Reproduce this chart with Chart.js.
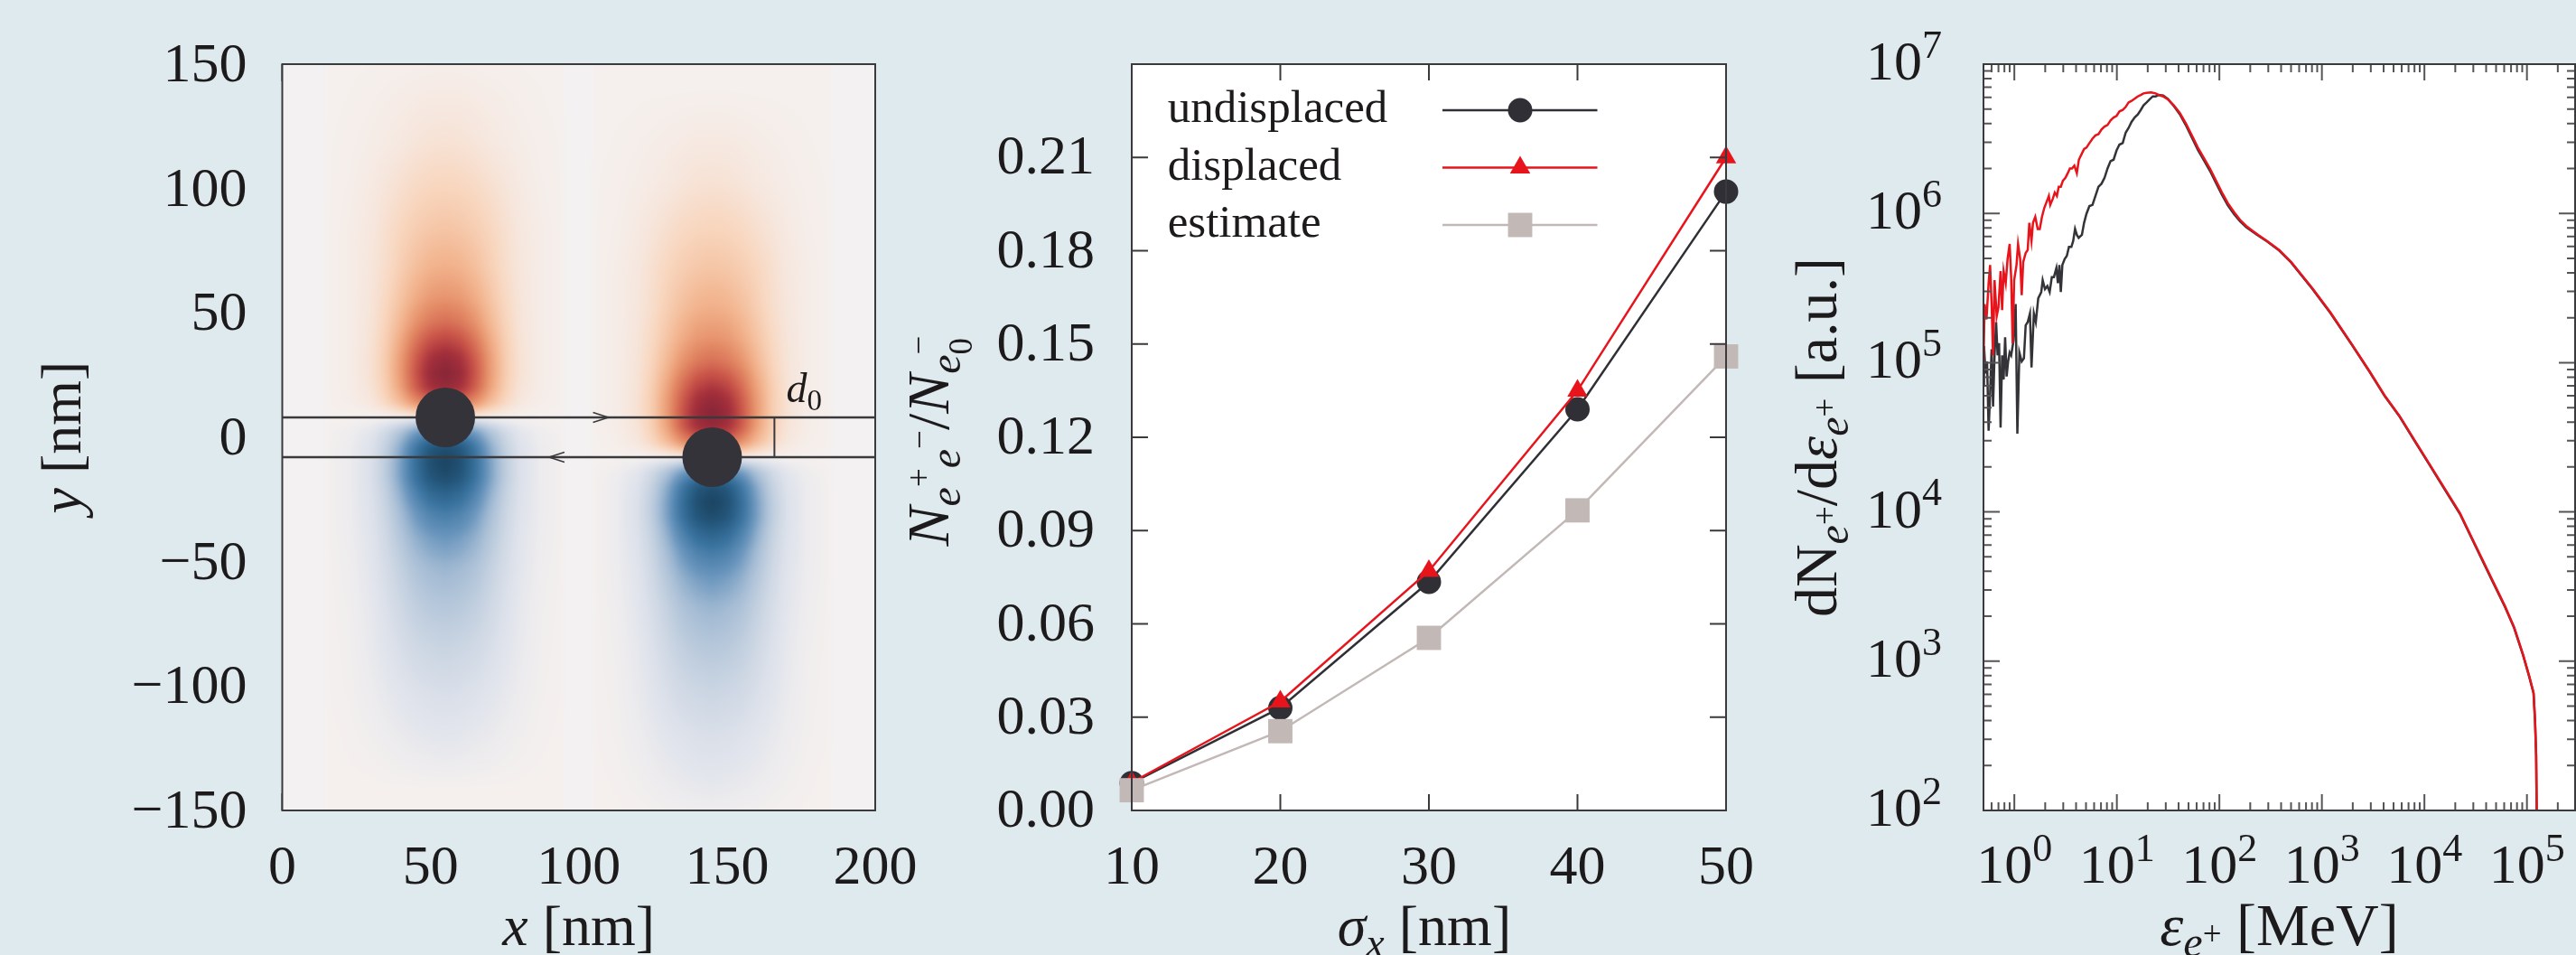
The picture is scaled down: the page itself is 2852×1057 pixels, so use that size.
<!DOCTYPE html>
<html><head><meta charset="utf-8">
<script src="https://cdn.jsdelivr.net/npm/chart.js@4.4.1/dist/chart.umd.min.js"></script>
<style>
html,body{margin:0;padding:0;}
body{width:2852px;height:1057px;position:relative;overflow:hidden;background:#dfeaef;}
canvas{position:absolute;top:0;}
</style></head><body>
<canvas id="c1" width="1045" height="1057" style="left:0px"></canvas>
<canvas id="c2" width="950" height="1057" style="left:1000px"></canvas>
<canvas id="c3" width="902" height="1057" style="left:1950px"></canvas>
<script>
// ---------------- Panel 1 data ----------------
const xTicks1 = [0, 50, 100, 150, 200];
const yTicks1 = [150, 100, 50, 0, -50, -100, -150];
const beamX = [55, 145];
const beamY = [8, -8];
const beamLineY = [8, -8];
const d0X = 166;
const d0Label = [170, 14];
const arrowMarks = [[110, 8, 1], [90, -8, -1]];
const bandHalfWidth = 40;
const fieldDx = [0, 5, 10, 15, 20, 25, 32, 40];
const fieldDy = [150,130,110,90,75,60,48,38,30,24,18,12,6,0,-6,-12,-18,-24,-30,-38,-48,-60,-75,-90,-110,-130,-150];
const fieldGrid = [
 [0,0,0,0,0,0,0,0],
 [.03,.03,.025,.02,.015,.01,.005,0],
 [.07,.065,.055,.04,.03,.02,.01,.003],
 [.13,.125,.11,.085,.06,.035,.015,.005],
 [.19,.18,.155,.12,.08,.045,.02,.005],
 [.27,.255,.21,.15,.09,.05,.02,.005],
 [.37,.35,.28,.19,.11,.055,.02,.005],
 [.52,.48,.38,.24,.13,.06,.02,.005],
 [.72,.66,.5,.3,.15,.065,.02,.005],
 [.88,.8,.58,.34,.16,.07,.02,.005],
 [.98,.88,.62,.35,.16,.07,.02,.005],
 [.9,.82,.58,.32,.15,.06,.02,.005],
 [.55,.5,.38,.22,.11,.045,.015,.003],
 [0,0,0,0,0,0,0,0],
 [-.55,-.5,-.38,-.22,-.11,-.045,-.015,-.003],
 [-.9,-.82,-.58,-.32,-.15,-.06,-.02,-.005],
 [-1,-.9,-.64,-.36,-.17,-.07,-.02,-.005],
 [-.92,-.84,-.62,-.36,-.17,-.07,-.02,-.005],
 [-.75,-.69,-.52,-.31,-.15,-.065,-.02,-.005],
 [-.56,-.52,-.4,-.25,-.13,-.06,-.02,-.005],
 [-.4,-.37,-.3,-.2,-.11,-.05,-.018,-.005],
 [-.28,-.26,-.22,-.15,-.09,-.045,-.015,-.004],
 [-.2,-.19,-.16,-.115,-.07,-.035,-.012,-.004],
 [-.14,-.13,-.115,-.085,-.055,-.03,-.01,-.003],
 [-.08,-.075,-.065,-.05,-.034,-.02,-.008,-.002],
 [-.04,-.036,-.03,-.024,-.016,-.01,-.004,0],
 [0,0,0,0,0,0,0,0]
];

// ---------------- Panel 2 data ----------------
const sigmaX = [10, 20, 30, 40, 50];
const undisplaced = [0.0088, 0.033, 0.0735, 0.129, 0.199];
const displaced = [0.009, 0.035, 0.077, 0.135, 0.21];
const estimate = [0.0065, 0.0255, 0.0555, 0.0965, 0.146];
const seriesNames = ['undisplaced', 'displaced', 'estimate'];
const xTicks2 = [10, 20, 30, 40, 50];
const yTicks2 = [0, 0.03, 0.06, 0.09, 0.12, 0.15, 0.18, 0.21, 0.24];
const yTickLabels2 = ['0.00','0.03','0.06','0.09','0.12','0.15','0.18','0.21'];

// ---------------- Panel 3 data ----------------
const xDecades3 = [0, 1, 2, 3, 4, 5];
const yDecades3 = [2, 3, 4, 5, 6, 7];
const redE = [0.5,0.513,0.535,0.561,0.58,0.6,0.62,0.641,0.673,0.7,
 0.734,0.76,0.786,0.824,0.859,0.9,0.931,0.963,0.996,1.05,
 1.087,1.14,1.18,1.22,1.29,1.35,1.4,1.47,1.52,1.6,
 1.69,1.77,1.86,1.96,2.07,2.17,2.24,2.37,2.48,2.6,
 2.71,2.84,2.98,3.15,3.32,3.48,3.65,3.85,4.07,4.26,
 4.56,4.79,5.05,5.4,5.78,6.18,6.62,7.08,7.58,8.11,
 8.67,9.29,9.93,10.6,11.4,12.2,13.0,13.9,14.9,16.0,
 17.1,18.2,19.5,21.6,23.9,25.6,28.3,31.4,35.9,41.1,
 47.1,53.9,61.7,70.6,80.9,92.6,106,121,139,159,
 182,208,239,292,383,502,
 807,1211,1944,2918,4093,5741,8050,1.13e4,1.58e4,2.22e4,
 3.11e4,4.37e4,6.12e4,7.5e4,9.19e4,1.05e5,1.16e5,1.2e5,1.23e5,1.245e5,1.25e5];
const redN = [9.73e4,2.47e5,1.95e5,3.41e5,4.51e5,2.47e5,1.12e5,3.57e5,2.05e5,2.35e5,
 4.11e5,2.25e5,4.11e5,3.41e5,4.95e5,6.24e5,3.74e5,1.35e5,3.57e5,4.51e5,
 6.24e5,4.95e5,2.83e5,4.72e5,5.43e5,5.69e5,8.65e5,6.54e5,8.65e5,9.49e5,
 7.87e5,7.87e5,9.49e5,1.09e6,1.2e6,1.31e6,1.14e6,1.25e6,1.38e6,1.31e6,
 1.51e6,1.51e6,1.66e6,1.73e6,1.86e6,2.0e6,2.0e6,2.09e6,1.86e6,2.29e6,
 2.52e6,2.7e6,2.76e6,2.96e6,3.17e6,3.33e6,3.4e6,3.65e6,3.82e6,3.91e6,
 4.2e6,4.39e6,4.5e6,4.82e6,4.93e6,5.17e6,5.54e6,5.67e6,5.86e6,6.08e6,
 6.22e6,6.37e6,6.43e6,6.46e6,6.37e6,6.22e6,6.08e6,5.81e6,5.3e6,4.71e6,
 4.01e6,3.33e6,2.76e6,2.35e6,2.0e6,1.66e6,1.38e6,1.17e6,1.02e6,9.06e5,
 8.25e5,7.69e5,7.18e5,6.54e5,5.69e5,4.72e5,
 3.15e5,2.17e5,1.34e5,8.75e4,6.03e4,4.38e4,3.01e4,2.07e4,1.43e4,9.82e3,
 6.08e3,3.76e3,2.33e3,1.69e3,1.1e3,800,614,400,235,100,10];
const blackE = [0.5,0.506,0.524,0.542,0.561,0.58,0.6,0.62,0.641,0.664,
 0.687,0.71,0.734,0.76,0.786,0.813,0.841,0.87,0.9,0.931,
 0.982,1.03,1.07,1.12,1.18,1.24,1.29,1.35,1.42,1.47,
 1.55,1.62,1.71,1.83,1.89,1.99,2.1,2.21,2.32,2.43,
 2.57,2.66,2.75,2.84,2.94,3.1,3.25,3.41,3.6,3.75,
 3.91,4.07,4.24,4.56,4.79,5.05,5.4,5.78,6.18,6.62,
 7.08,7.58,8.11,8.67,9.29,9.93,10.6,11.4,12.2,13.0,
 13.9,14.9,16.0,17.1,18.2,19.5,20.9,22.4,23.9,25.6,
 28.3,31.4,
 35.9,41.1,47.1,53.9,61.7,70.6,80.9,92.6,106,121,
 139,159,182,208,239,292,383,502,807,1211,
 1944,2918,4093,5741,8050,1.13e4,1.58e4,2.22e4,3.11e4,4.37e4,
 6.12e4,7.5e4,9.19e4,1.05e5,1.16e5,1.2e5,1.23e5,1.245e5,1.25e5];
const blackN = [7.03e4,1.29e5,8.47e4,1.02e5,3.5e4,6.12e4,1.23e5,5.09e4,1.12e5,1.87e5,
 1.12e5,1.35e5,3.67e4,1.12e5,7.71e4,1.48e5,8.09e4,1.02e5,1.17e5,1.12e5,
 1.41e5,2.47e5,3.34e4,1.17e5,1.02e5,1.07e5,1.78e5,1.87e5,2.14e5,9.3e4,
 2.14e5,1.87e5,2.7e5,2.97e5,3.57e5,3.11e5,3.26e5,2.97e5,3.74e5,3.74e5,
 4.31e5,3.41e5,4.51e5,2.97e5,4.51e5,4.95e5,5.19e5,5.96e5,5.96e5,6.54e5,
 7.87e5,7.18e5,6.86e5,7.18e5,8.65e5,9.93e5,1.12e6,1.14e6,1.31e6,1.51e6,
 1.58e6,1.73e6,2.0e6,2.24e6,2.29e6,2.64e6,2.89e6,2.96e6,3.48e6,3.73e6,
 4.1e6,4.39e6,4.6e6,4.93e6,5.3e6,5.54e6,5.81e6,6.08e6,6.08e6,6.22e6,
 6.16e6,5.86e6,
 5.25e6,4.62e6,3.9e6,3.22e6,2.66e6,2.27e6,1.93e6,1.6e6,1.33e6,1.13e6,
 9.9e5,8.85e5,8.1e5,7.58e5,7.1e5,6.48e5,5.64e5,4.68e5,3.12e5,2.15e5,
 1.33e5,8.68e4,5.98e4,4.34e4,2.98e4,2.05e4,1.41e4,9.7e3,6.0e3,3.7e3,
 2.3e3,1.67e3,1.09e3,790,610,398,233,100,10];

// ---------------- styling helpers ----------------
const FAM = '"Liberation Serif","Times New Roman",serif';
const TXT = '#1d1a1b';
const AX = '#3a3a3c';

function drawRich(ctx, parts, x, y, S, align) {
  const fnt = p => (p.it ? 'italic ' : '') + Math.round(S * (p.s || 1)) + 'px ' + FAM;
  const widths = parts.map(([t, p]) => { ctx.font = fnt(p); return ctx.measureText(t).width; });
  let cur = 0, maxx = 0;
  parts.forEach(([t, p], i) => { const e = cur + widths[i]; maxx = Math.max(maxx, e); if (!p.nx) cur = e; });
  const w = Math.max(cur, maxx);
  const sx = align === 'center' ? x - w / 2 : align === 'right' ? x - w : x;
  ctx.save();
  ctx.fillStyle = TXT; ctx.textBaseline = 'alphabetic'; ctx.textAlign = 'left';
  cur = 0;
  parts.forEach(([t, p], i) => { ctx.font = fnt(p); ctx.fillText(t, sx + cur, y + (p.dy || 0) * S); if (!p.nx) cur += widths[i]; });
  ctx.restore();
}
function drawRichRot(ctx, parts, x, y, S) {
  ctx.save(); ctx.translate(x, y); ctx.rotate(-Math.PI / 2);
  drawRich(ctx, parts, 0, 0, S, 'center'); ctx.restore();
}
function frame(chart) {
  const {ctx, chartArea: a} = chart;
  ctx.save(); ctx.strokeStyle = AX; ctx.lineWidth = 2;
  ctx.strokeRect(a.left, a.top, a.right - a.left, a.bottom - a.top); ctx.restore();
}
function ticksIn(chart, xt, yt, color) {
  const {ctx, chartArea: a, scales: {x, y}} = chart;
  ctx.save(); ctx.strokeStyle = color || AX; ctx.lineWidth = 2; ctx.beginPath();
  xt.forEach(([v, l]) => { const p = x.getPixelForValue(v);
    ctx.moveTo(p, a.bottom); ctx.lineTo(p, a.bottom - l); ctx.moveTo(p, a.top); ctx.lineTo(p, a.top + l); });
  yt.forEach(([v, l]) => { const p = y.getPixelForValue(v);
    ctx.moveTo(a.left, p); ctx.lineTo(a.left + l, p); ctx.moveTo(a.right, p); ctx.lineTo(a.right - l, p); });
  ctx.stroke(); ctx.restore();
}
const fmtNum = v => String(v).replace('-', '\u2212');
const whiteBg = { id: 'whiteBg', beforeDatasetsDraw(chart) {
  const {ctx, chartArea: a} = chart; ctx.save(); ctx.fillStyle = '#ffffff';
  ctx.fillRect(a.left, a.top, a.right - a.left, a.bottom - a.top); ctx.restore(); } };

// ---------------- heatmap colour map ----------------
const cmapV = [-1, -0.8, -0.6, -0.4, -0.25, -0.12, -0.04, 0, 0.04, 0.12, 0.25, 0.4, 0.6, 0.8, 1];
const cmapC = [[27,67,96],[38,90,128],[58,116,160],[104,148,188],[165,188,212],[204,214,227],[228,230,237],
  [245,240,238],[246,232,224],[248,214,190],[242,180,142],[228,140,102],[204,88,74],[166,48,60],[130,36,55]];
const OUTSIDE = [243, 241, 241];
const LUT = [];
for (let i = 0; i <= 2000; i++) {
  const v = -1 + i / 1000; let k = 0;
  while (k < cmapV.length - 2 && cmapV[k + 1] < v) k++;
  const t = Math.min(1, Math.max(0, (v - cmapV[k]) / (cmapV[k + 1] - cmapV[k])));
  LUT.push([0, 1, 2].map(c => Math.round(cmapC[k][c] * (1 - t) + cmapC[k + 1][c] * t)));
}
const lut = v => LUT[Math.round((Math.max(-1, Math.min(1, v)) + 1) * 1000)];
function fieldAt(dx, dy) {
  if (dx >= fieldDx[fieldDx.length - 1] || dy >= fieldDy[0] || dy <= fieldDy[fieldDy.length - 1]) return 0;
  let c = 0; while (fieldDx[c + 1] <= dx) c++;
  let r = 0; while (fieldDy[r + 1] >= dy) r++;
  const tx = (dx - fieldDx[c]) / (fieldDx[c + 1] - fieldDx[c]);
  const ty = (fieldDy[r] - dy) / (fieldDy[r] - fieldDy[r + 1]);
  const g = fieldGrid;
  const a0 = g[r][c] * (1 - tx) + g[r][c + 1] * tx, a1 = g[r + 1][c] * (1 - tx) + g[r + 1][c + 1] * tx;
  return a0 * (1 - ty) + a1 * ty;
}
function drawHeat(chart) {
  const {ctx, chartArea: a, scales: {x, y}} = chart;
  const M = 12, L = Math.round(a.left) - M, T = Math.round(a.top) - M;
  const W = Math.round(a.right) - Math.round(a.left) + 2 * M, H = Math.round(a.bottom) - Math.round(a.top) + 2 * M;
  const off = document.createElement('canvas'); off.width = W; off.height = H;
  const octx = off.getContext('2d'); const img = octx.createImageData(W, H); const d = img.data;
  const xv = new Float64Array(W); for (let i = 0; i < W; i++) xv[i] = x.getValueForPixel(L + i + 0.5);
  for (let j = 0; j < H; j++) {
    const yv = y.getValueForPixel(T + j + 0.5);
    for (let i = 0; i < W; i++) {
      let v = 0, band = false;
      for (let b = 0; b < beamX.length; b++) {
        const dx = Math.abs(xv[i] - beamX[b]);
        if (dx <= bandHalfWidth) { band = true; v += fieldAt(dx, yv - beamY[b]); }
      }
      const c = band ? lut(v) : OUTSIDE;
      const k = (j * W + i) * 4; d[k] = c[0]; d[k + 1] = c[1]; d[k + 2] = c[2]; d[k + 3] = 255;
    }
  }
  octx.putImageData(img, 0, 0);
  ctx.save(); ctx.beginPath(); ctx.rect(a.left, a.top, a.right - a.left, a.bottom - a.top); ctx.clip();
  ctx.filter = 'blur(3px)'; ctx.drawImage(off, L, T); ctx.restore();
}

const commonOpts = (pad) => ({
  responsive: false, animation: false, events: [],
  layout: { padding: pad },
  plugins: { legend: { display: false }, tooltip: { enabled: false } }
});

// ---------------- Chart 1 ----------------
const T_x1 = [['x', {it: 1}], [' [nm]', {}]];
const T_y1 = [['y', {it: 1}], [' [nm]', {}]];
const p1 = {
  id: 'p1',
  beforeDatasetsDraw(chart) {
    ticksIn(chart, xTicks1.map(v => [v, 19]), yTicks1.map(v => [v, 19]));
    drawHeat(chart);
  },
  afterDatasetsDraw(chart) {
    const {ctx, scales: {x, y}} = chart;
    ctx.save(); ctx.strokeStyle = AX; ctx.lineWidth = 1.6;
    arrowMarks.forEach(([xv, yv, dir]) => {
      const px = x.getPixelForValue(xv), py = y.getPixelForValue(yv);
      ctx.beginPath(); ctx.moveTo(px - dir * 17, py - 5.5); ctx.lineTo(px, py); ctx.lineTo(px - dir * 17, py + 5.5); ctx.stroke();
    });
    ctx.restore();
    drawRich(ctx, [['d', {it: 1}], ['0', {s: .72, dy: .18}]], x.getPixelForValue(d0Label[0]), y.getPixelForValue(d0Label[1]), 46, 'left');
    frame(chart);
  },
  afterDraw(chart) {
    const {ctx, chartArea: a, scales: {x, y}} = chart;
    xTicks1.forEach(v => drawRich(ctx, [[fmtNum(v), {}]], x.getPixelForValue(v), 978, 62, 'center'));
    yTicks1.forEach(v => drawRich(ctx, [[fmtNum(v), {}]], a.left - 39, y.getPixelForValue(v) + 19, 62, 'right'));
    drawRich(ctx, T_x1, (a.left + a.right) / 2, 1046, 64, 'center');
    drawRichRot(ctx, T_y1, 89, (a.top + a.bottom) / 2, 64);
  }
};
new Chart(document.getElementById('c1'), {
  type: 'scatter',
  data: { datasets: [
    { data: beamX.map((v, i) => ({x: v, y: beamY[i]})), pointRadius: 33, pointBackgroundColor: '#343339', pointBorderWidth: 0, showLine: false, clip: false, order: 1 },
    { type: 'line', data: xTicks1.filter((v, i) => i === 0 || i === xTicks1.length - 1).map(v => ({x: v, y: beamLineY[0]})), borderColor: AX, borderWidth: 2.5, pointRadius: 0, order: 2 },
    { type: 'line', data: xTicks1.filter((v, i) => i === 0 || i === xTicks1.length - 1).map(v => ({x: v, y: beamLineY[1]})), borderColor: AX, borderWidth: 2.5, pointRadius: 0, order: 3 },
    { type: 'line', data: beamLineY.map(v => ({x: d0X, y: v})), borderColor: AX, borderWidth: 2, pointRadius: 0, order: 4 }
  ]},
  options: Object.assign(commonOpts({left: 312.5, right: 76, top: 71, bottom: 160}), {
    scales: {
      x: { type: 'linear', min: 0, max: 200, display: false },
      y: { type: 'linear', min: -150, max: 150, display: false }
    }
  }),
  plugins: [p1]
});

// ---------------- Chart 2 ----------------
const T_x2 = [['σ', {it: 1}], ['x', {it: 1, s: .72, dy: .2}], [' [nm]', {}]];
const T_y2 = [['N', {it: 1}], ['e', {it: 1, s: .72, dy: .2}], ['+', {s: .56, dy: -.3}], ['e', {it: 1, s: .72, dy: .2}], ['\u2212', {s: .56, dy: -.3}],
  ['/', {}], ['N', {it: 1}], ['e', {it: 1, s: .72, dy: .2}], ['\u2212', {s: .56, dy: -.32, nx: 1}], ['0', {s: .56, dy: .4}]];
const styles2 = [
  { color: '#2f2f35', style: 'circle', r: 13.5 },
  { color: '#e8141c', style: 'triangle', r: 13 },
  { color: '#c2b8b5', style: 'rect', r: 19 }
];
const p2 = {
  id: 'p2',
  afterDatasetsDraw(chart) {
    const {ctx} = chart;
    ticksIn(chart, xTicks2.slice(1, -1).map(v => [v, 18]), yTicks2.slice(1, -1).map(v => [v, 18]));
    frame(chart);
    seriesNames.forEach((name, i) => {
      const base = 135 + i * 63.5, ly = base - 13;
      ctx.save(); ctx.font = '51px ' + FAM; ctx.fillStyle = TXT; ctx.fillText(name, 292.7, base);
      ctx.strokeStyle = styles2[i].color; ctx.lineWidth = 2.5; ctx.beginPath(); ctx.moveTo(597, ly); ctx.lineTo(768.5, ly); ctx.stroke();
      ctx.fillStyle = styles2[i].color;
      Chart.helpers.drawPoint(ctx, { pointStyle: styles2[i].style, radius: styles2[i].r, rotation: 0, borderWidth: 0 }, 683, ly);
      ctx.restore();
    });
  },
  afterDraw(chart) {
    const {ctx, chartArea: a, scales: {x, y}} = chart;
    xTicks2.forEach(v => drawRich(ctx, [[String(v), {}]], x.getPixelForValue(v), 978, 62, 'center'));
    yTickLabels2.forEach((t, i) => drawRich(ctx, [[t, {}]], a.left - 41, y.getPixelForValue(yTicks2[i]) + 18, 62, 'right'));
    drawRich(ctx, T_x2, (a.left + a.right) / 2 - 5, 1046, 64, 'center');
    drawRichRot(ctx, T_y2, 50, 488, 66);
  }
};
const series2 = [undisplaced, displaced, estimate];
new Chart(document.getElementById('c2'), {
  type: 'line',
  data: { datasets: series2.map((arr, i) => ({
    label: seriesNames[i],
    data: sigmaX.map((s, k) => ({x: s, y: arr[k]})),
    borderColor: styles2[i].color, backgroundColor: styles2[i].color,
    borderWidth: 2.5, pointStyle: styles2[i].style, pointRadius: styles2[i].r,
    pointBorderWidth: 0, pointBackgroundColor: styles2[i].color, tension: 0, clip: false,
    order: 3 - i
  })) },
  options: Object.assign(commonOpts({left: 253, right: 39, top: 71, bottom: 160}), {
    scales: {
      x: { type: 'linear', min: 10, max: 50, display: false },
      y: { type: 'linear', min: 0, max: 0.24, display: false }
    }
  }),
  plugins: [whiteBg, p2]
});

// ---------------- Chart 3 ----------------
const T_x3 = [['ε', {it: 1}], ['e', {it: 1, s: .72, dy: .2}], ['+', {s: .56, dy: 0}], [' [MeV]', {}]];
const T_y3 = [['dN', {}], ['e', {it: 1, s: .72, dy: .2}], ['+', {s: .56, dy: 0}], ['/d', {}], ['ε', {it: 1}],
  ['e', {it: 1, s: .72, dy: .2}], ['+', {s: .56, dy: 0}], [' [a.u.]', {}]];
const p3 = {
  id: 'p3',
  afterDatasetsDraw(chart) {
    const {scales: {x}} = chart;
    const xt = [], yt = [];
    const xmin = x.min, xmax = x.max;
    for (let k = -1; k <= 5; k++) for (let m = 1; m <= 9; m++) {
      const v = m * Math.pow(10, k);
      if (v > xmin * 1.0001 && v < xmax) xt.push([v, m === 1 ? 18 : 9]);
    }
    yDecades3.forEach(e => { for (let m = 1; m <= 9; m++) { const v = m * Math.pow(10, e); if (v > 100 && v < 1e7) yt.push([v, m === 1 ? 18 : 9]); } });
    ticksIn(chart, xt, yt, '#555557');
    frame(chart);
  },
  afterDraw(chart) {
    const {ctx, chartArea: a, scales: {x, y}} = chart;
    xDecades3.forEach(e => drawRich(ctx, [['10', {}], [String(e), {s: .71, dy: -.39}]], x.getPixelForValue(Math.pow(10, e)), 977, 62, 'center'));
    yDecades3.forEach(e => drawRich(ctx, [['10', {}], [String(e), {s: .71, dy: -.39}]], 200, y.getPixelForValue(Math.pow(10, e)) + 17, 62, 'right'));
    drawRich(ctx, T_x3, (a.left + a.right) / 2, 1046, 66, 'center');
    drawRichRot(ctx, T_y3, 83, (a.top + a.bottom) / 2, 66);
  }
};
new Chart(document.getElementById('c3'), {
  type: 'line',
  data: { datasets: [
    { data: blackE.map((e, i) => ({x: e, y: blackN[i]})), borderColor: '#333338', borderWidth: 2.5, pointRadius: 0, tension: 0, order: 2 },
    { data: redE.map((e, i) => ({x: e, y: redN[i]})), borderColor: '#e8141c', borderWidth: 2.5, pointRadius: 0, tension: 0, order: 1 }
  ]},
  options: Object.assign(commonOpts({left: 246, right: 1, top: 71, bottom: 160}), {
    scales: {
      x: { type: 'logarithmic', min: 0.5, max: 2.95e5, display: false },
      y: { type: 'logarithmic', min: 100, max: 1e7, display: false }
    }
  }),
  plugins: [whiteBg, p3]
});
</script></body></html>
